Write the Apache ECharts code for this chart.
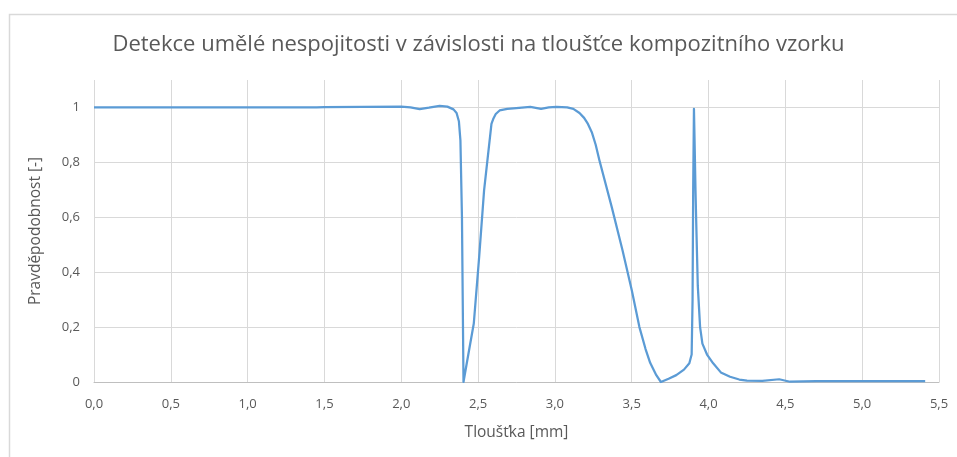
<!DOCTYPE html>
<html>
<head>
<meta charset="utf-8">
<script src="https://cdn.jsdelivr.net/npm/echarts@6/dist/echarts.min.js"></script>
<style>html,body{margin:0;padding:0;background:#fff}#c{width:957px;height:457px}</style>
</head>
<body>
<div id="c"></div>
<script>
const titleText = 'Detekce umělé nespojitosti v závislosti na tloušťce kompozitního vzorku';
const xAxisName = 'Tloušťka [mm]';
const yAxisName = 'Pravděpodobnost [-]';
const thickness = [0, 0.5, 1.0, 1.45, 1.5, 1.75, 2.0, 2.06, 2.12, 2.18, 2.25, 2.3, 2.34, 2.36, 2.375, 2.385, 2.395, 2.40, 2.405, 2.43, 2.472, 2.507, 2.539, 2.587, 2.6, 2.615, 2.64, 2.69, 2.73, 2.84, 2.91, 2.96, 3.01, 3.08, 3.12, 3.16, 3.19, 3.215, 3.24, 3.265, 3.29, 3.37, 3.44, 3.50, 3.55, 3.59, 3.62, 3.66, 3.69, 3.74, 3.79, 3.84, 3.875, 3.89, 3.896, 3.900, 3.905, 3.910, 3.915, 3.92, 3.93, 3.945, 3.96, 3.99, 4.03, 4.08, 4.14, 4.2, 4.25, 4.35, 4.46, 4.53, 4.7, 5.0, 5.41];
const probability = [1.0, 1.0, 1.0, 1.0, 1.001, 1.002, 1.003, 1.0, 0.994, 0.999, 1.006, 1.003, 0.993, 0.98, 0.95, 0.88, 0.6, 0.3, 0.0, 0.08, 0.213, 0.456, 0.698, 0.94, 0.96, 0.976, 0.989, 0.995, 0.997, 1.002, 0.995, 1.0, 1.002, 1.0, 0.995, 0.98, 0.962, 0.94, 0.91, 0.865, 0.807, 0.637, 0.48, 0.335, 0.2, 0.12, 0.07, 0.025, 0.0, 0.012, 0.025, 0.045, 0.068, 0.1, 0.3, 0.7, 0.995, 0.85, 0.7, 0.577, 0.35, 0.2, 0.14, 0.1, 0.068, 0.035, 0.019, 0.009, 0.005, 0.004, 0.01, 0.001, 0.003, 0.003, 0.003];

const chart = echarts.init(document.getElementById('c'), null, {renderer: 'canvas'});
const pts = thickness.map((x, i) => [x, probability[i]]);
const font = '"Open Sans", "Noto Sans", sans-serif';
const fmt = v => (Math.round(v * 10) / 10).toFixed(1).replace('.', ',');
chart.setOption({
  animation: false,
  backgroundColor: '#fff',
  graphic: [{
    type: 'rect', left: 7, top: 12, z: -1,
    shape: {width: 1000, height: 500},
    style: {fill: 'none', stroke: '#d9d9d9', lineWidth: 1.5}
  }],
  title: {
    text: titleText, left: 'center', top: 29,
    textStyle: {fontFamily: font, fontSize: 22, fontWeight: 'normal', color: '#595959'}
  },
  grid: {left: 94, right: 18, top: 80, bottom: 75},
  xAxis: {
    type: 'value', min: 0, max: 5.5, interval: 0.5,
    name: xAxisName, nameLocation: 'middle', nameGap: 43,
    nameTextStyle: {fontFamily: font, fontSize: 15.5, color: '#595959'},
    axisLine: {show: true, lineStyle: {color: '#bfbfbf', width: 1}},
    axisTick: {show: false},
    axisLabel: {formatter: fmt, fontFamily: font, fontSize: 13, color: '#595959', margin: 16},
    splitLine: {show: true, lineStyle: {color: '#d9d9d9', width: 1}}
  },
  yAxis: {
    type: 'value', min: 0, max: 1.1, interval: 0.2,
    name: yAxisName, nameLocation: 'middle', nameGap: 50,
    nameTextStyle: {fontFamily: font, fontSize: 15.5, color: '#595959'},
    axisLine: {show: false},
    axisTick: {show: false},
    axisLabel: {
      formatter: v => (v > 1.05 ? '' : (v === 0 ? '0' : (Math.abs(v - 1) < 1e-9 ? '1' : String(Math.round(v * 10) / 10).replace('.', ',')))),
      fontFamily: font, fontSize: 13, color: '#595959', margin: 14
    },
    splitLine: {show: true, lineStyle: {color: ['#d9d9d9', '#d9d9d9', '#d9d9d9', '#d9d9d9', '#d9d9d9', '#d9d9d9', 'rgba(0,0,0,0)'], width: 1}}
  },
  series: [{
    type: 'line', data: pts, showSymbol: false, smooth: false,
    lineStyle: {color: '#5b9bd5', width: 2.25, join: 'round'},
    itemStyle: {color: '#5b9bd5'}
  }]
});
</script>
</body>
</html>
